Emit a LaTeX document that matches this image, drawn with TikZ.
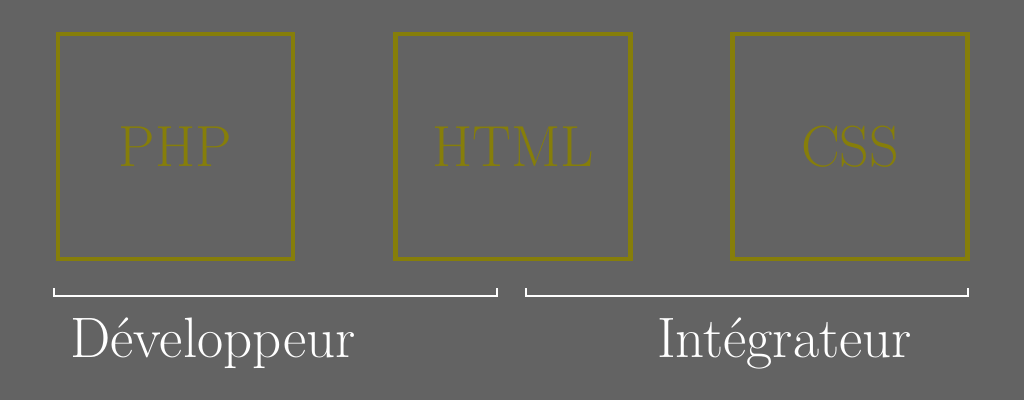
\documentclass[tikz,border=0pt]{standalone}
\usepackage{tikz}
\usetikzlibrary{positioning}
\definecolor{bggrey}{RGB}{99,99,99}
\definecolor{olivetext}{RGB}{134,126,10}
\tikzset{x=1pt,y=-1pt}

\begin{document}
\begin{tikzpicture}
% Style
[
    line cap=round,
    lang box/.style={draw=olivetext, line width=4.5pt, text=olivetext,
        minimum width=235pt, minimum height=225pt, inner sep=0pt,
        font=\fontsize{58}{58}\selectfont},
    role bracket/.style={draw=white, line width=2.2pt, line cap=butt},
    role text/.style={text=white, inner sep=0pt, font=\fontsize{57}{57}\selectfont}
]

%=================================== Start ===================================
{
    % Define: Background
    \fill[bggrey] (0, 0) rectangle (1024, 400);
    \useasboundingbox (0, 0) rectangle (1024, 400);

    % Draw: Boxes
    \node[lang box] (php)  at (175.5, 146.5) {PHP};
    \node[lang box] (html) at (513, 146.5)   {HTML};
    \node[lang box] (css)  at (850, 146.5)   {CSS};

    % Define: Bracket ends
    \coordinate (dev start)   at (54, 288);
    \coordinate (dev end)     at (497, 288);
    \coordinate (integ start) at (526, 288);
    \coordinate (integ end)   at (968, 288);

    % Draw: Brackets
    \draw[role bracket] (dev start) -- ++(0, 8) -| (dev end);
    \draw[role bracket] (integ start) -- ++(0, 8) -| (integ end);

    % Draw: Labels
    \node[role text, anchor=base west] (dev)   at (70, 357)  {Développeur};
    \node[role text, anchor=base east] (integ) at (912, 357) {Intégrateur};
}
%==================================== END ====================================

\end{tikzpicture}
\end{document}
